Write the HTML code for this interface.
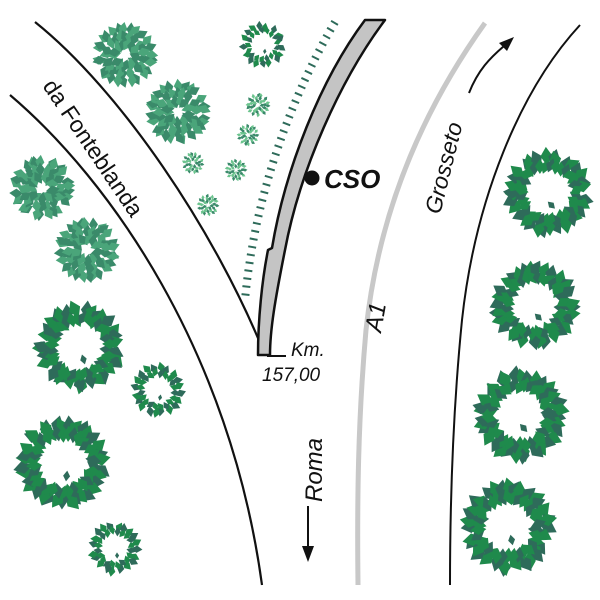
<!DOCTYPE html>
<html><head><meta charset="utf-8"><style>body{margin:0;background:#fff}svg{display:block}</style></head>
<body>
<svg id="s" width="600" height="600" viewBox="0 0 600 600" xmlns="http://www.w3.org/2000/svg" font-family="Liberation Sans, sans-serif">
<g id="trees"></g>
<path d="M35,22 C120,90 215,230 265,355" fill="none" stroke="#111" stroke-width="2.2"/>
<path d="M10,95 C110,180 230,350 262,585" fill="none" stroke="#111" stroke-width="2.2"/>
<path d="M385,20 C340,80 300,170 285,250 C275,300 270,330 270,355 L258,355 C258,320 262,280 268,250 L272,248 C285,170 320,80 365,20 Z" fill="#c4c4c4" stroke="#111" stroke-width="2.5" stroke-linejoin="round"/>
<path d="M335,22 C295,90 255,190 245,300" fill="none" stroke="#2e6b5a" stroke-width="8" stroke-dasharray="2,6"/>
<path d="M485,23 C430,100 380,200 366,330 C358,420 357,500 358,585" fill="none" stroke="#c8c8c8" stroke-width="5"/>
<path d="M580,25 C520,90 475,200 462,320 C453,410 450,500 450,585" fill="none" stroke="#111" stroke-width="2"/>
<circle cx="312" cy="178" r="7.5" fill="#111"/>
<text x="324" y="188" font-size="26" font-weight="bold" font-style="italic" fill="#111">CSO</text>
<path d="M267,356 H286" stroke="#111" stroke-width="2"/>
<text x="291" y="356" font-size="19" font-style="italic" fill="#111">Km.</text>
<text x="262" y="381" font-size="19" font-style="italic" fill="#111">157,00</text>
<text transform="translate(381,333) rotate(-80)" font-size="24" font-style="italic" fill="#111">A1</text>
<text transform="translate(440,215) rotate(-76)" font-size="23" font-style="italic" fill="#111">Grosseto</text>
<path d="M469,93 C478,70 490,58 504,46" fill="none" stroke="#111" stroke-width="2"/>
<polygon points="514,37 499,43 507,51" fill="#111"/>
<text transform="translate(322,502) rotate(-90)" font-size="24" font-style="italic" fill="#111">Roma</text>
<path d="M308,506 V548" stroke="#111" stroke-width="2"/>
<polygon points="302,546 314,546 308,562" fill="#111"/>
<text transform="translate(42,86) rotate(56)" font-size="23" fill="#111">da Fonteblanda</text>
</svg>
<script>
var g=document.getElementById('trees'),NS='http://www.w3.org/2000/svg';
var seed=7;function rnd(){seed=(seed*9301+49297)%233280;return seed/233280;}
function leaf(cx,cy,a,r,size,col){var e=document.createElementNS(NS,'path');
var x=cx+r*Math.cos(a),y=cy+r*Math.sin(a);var s=size;
e.setAttribute('d','M'+(-s)+',0 L0,'+(-s*0.65)+' L'+s+',0 L0,'+(s*0.65)+'Z');
e.setAttribute('fill',col);
e.setAttribute('transform','translate('+x+' '+y+') rotate('+(a*180/Math.PI+rnd()*60-30)+')');g.appendChild(e);}
function dark(cx,cy,R){var n=Math.round(R*0.75);
for(var i=0;i<n;i++){var a=i/n*6.283+rnd()*0.2;leaf(cx,cy,a,R*0.8+rnd()*R*0.1,R*0.22,i%2?'#1f8a4c':'#2e6b5a');}
for(var i=0;i<n;i++){var a=(i+0.5)/n*6.283;leaf(cx,cy,a,R*0.62+rnd()*R*0.08,R*0.18,i%3?'#1f8a4c':'#2e6b5a');}
leaf(cx,cy,1.3,R*0.3,R*0.12,'#2e6b5a');}
function light(cx,cy,R,col){var n=Math.round(R*0.6)+7;
for(var k=0;k<3;k++){var rr=R*(0.82-k*0.24);var m=Math.max(5,Math.round(n*(1-k*0.25)));for(var i=0;i<m;i++){var a=(i+k*0.5)/m*6.283+rnd()*0.3;leaf(cx,cy,a,rr,R*0.22,i%2?col:'#3a8a6a');}}}
[[125,55,32],[178,112,32],[42,188,32],[87,250,32]].forEach(function(t){light(t[0],t[1],t[2],'#4aa57a');});
[[258,105,12],[248,135,11],[193,163,11],[236,170,11],[208,205,11]].forEach(function(t){light(t[0],t[1],t[2],'#6cc48e');});
[[263,45,22],[80,347,43],[158,390,26],[63,463,45],[115,548,26],[548,193,42],[535,305,42],[520,415,45],[508,527,45]].forEach(function(t){dark(t[0],t[1],t[2]);});
</script>
</body></html>
